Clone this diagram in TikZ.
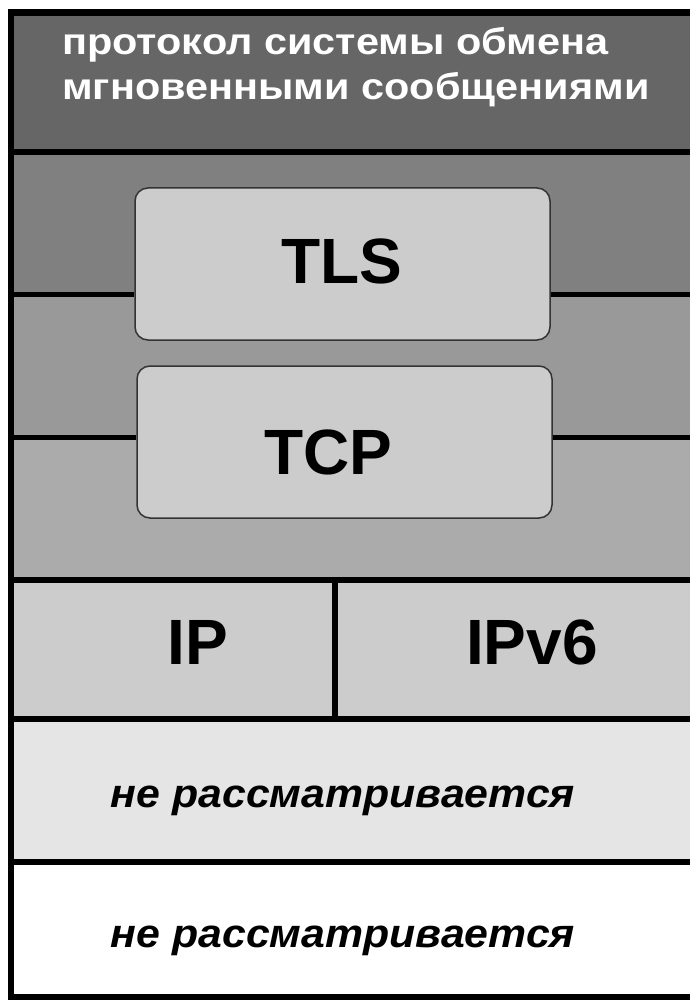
\documentclass[tikz,border=0pt]{standalone}
\usepackage{graphicx}
\usepackage{fontspec}
\setmainfont{Liberation Sans}
\begin{document}
\begin{tikzpicture}[x=1pt,y=-1pt,
  sep/.style={line width=6pt,black},
  midline/.style={line width=5pt,black},
  layerbox/.style={draw=black!80,line width=1.5pt,fill=black!20,rounded corners=13pt},
  big/.style={font=\fontsize{64}{64}\selectfont\bfseries},
  head/.style={anchor=base west,text=white,inner sep=0pt,font=\fontsize{37}{37}\selectfont\bfseries},
  note/.style={anchor=base,font=\fontsize{40}{40}\selectfont\bfseries\itshape}]
\useasboundingbox (0,0) rectangle (689,1000);
\fill[white] (0,0) rectangle (689,1000);
% stacked layer bands
\fill[black!60] (11,12) rectangle (700,152);
\fill[black!50] (11,152) rectangle (700,294);
\fill[black!40] (11,294) rectangle (700,437);
\fill[black!33] (11,437) rectangle (700,580);
\fill[black!20] (11,580) rectangle (700,719);
\fill[black!10] (11,719) rectangle (700,862);
\fill[white] (11,862) rectangle (700,997);
% layer separators
\draw[sep] (11,152) -- (700,152);
\draw[sep] (11,580) -- (700,580);
\draw[sep] (11,719) -- (700,719);
\draw[sep] (11,862) -- (700,862);
\draw[sep] (335,580) -- (335,719);
% header text
\node[head] (hdr1) at (62,55) {\scalebox{1.12}[1]{протокол системы обмена}};
\node[head] (hdr2) at (62,100) {\scalebox{1.12}[1]{мгновенными сообщениями}};
% TLS and TCP boxes
\node[layerbox,minimum width=415pt,minimum height=152pt] (tls) at (342.5,264) {};
\node[big,anchor=base] (tlst) at (342,283) {TLS};
\node[layerbox,minimum width=415pt,minimum height=152pt] (tcp) at (344.5,442) {};
\node[big,anchor=base] (tcpt) at (328,474) {TCP};
\coordinate (l1) at (11,294);
\coordinate (r1) at (700,294);
\coordinate (l2) at (11,437);
\coordinate (r2) at (700,437);
\draw[midline] (l1) -- (tls.west |- l1);
\draw[midline] (tls.east |- r1) -- (r1);
\draw[midline] (l2) -- (tcp.west |- l2);
\draw[midline] (tcp.east |- r2) -- (r2);
% IP row
\node[big,anchor=base] (ip) at (198,664) {IP};
\node[big,anchor=base] (ipv6) at (532,664) {IPv6};
% lower layers
\node[note] (n1) at (343,807) {\scalebox{1.07}[1]{не рассматривается}};
\node[note] (n2) at (343,947) {\scalebox{1.07}[1]{не рассматривается}};
% outer frame
\draw[line width=6.5pt,black] (700,12.5) -- (11,12.5) -- (11,997) -- (700,997);
\end{tikzpicture}
\end{document}
